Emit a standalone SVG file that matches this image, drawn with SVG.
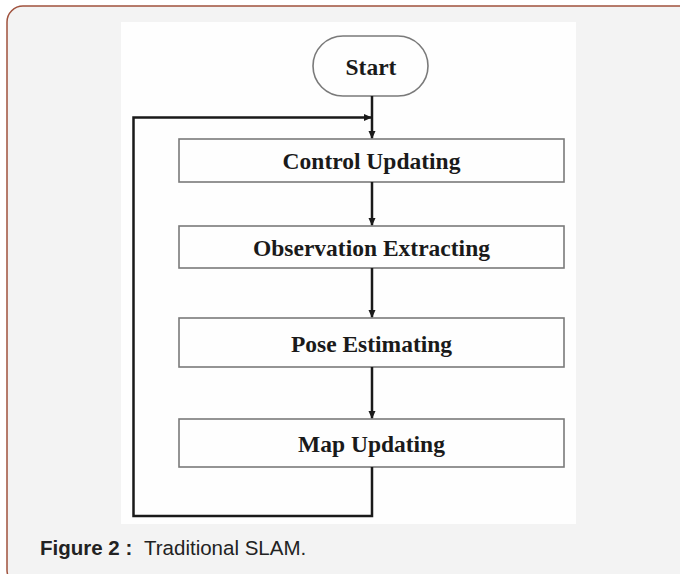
<svg xmlns="http://www.w3.org/2000/svg" width="680" height="574" viewBox="0 0 680 574">
<defs>
<marker id="ah" markerWidth="8" markerHeight="8" refX="7" refY="4" orient="auto" markerUnits="userSpaceOnUse">
<path d="M0,0.5 L8,4 L0,7.5 Z" fill="#1a1a1a"/>
</marker>
<style>
.box{fill:#fefefe;stroke:#7a7a7a;stroke-width:1.6}
.lbl{font-family:"Liberation Serif","Times New Roman",serif;font-weight:bold;font-size:23.5px;fill:#1a1a1a;text-anchor:middle}
.ln{fill:none;stroke:#1a1a1a;stroke-width:2.5}
.cap{font-family:"Liberation Sans",Arial,sans-serif;font-size:20.5px;fill:#222}
</style>
</defs>
<rect x="7" y="6" width="690" height="580" rx="16" fill="#f3f3f3" stroke="#a0523d" stroke-width="1.5"/>
<rect x="121" y="22" width="455" height="502" fill="#fefefe"/>
<g id="start">
<rect class="box" x="313" y="36" width="115" height="60" rx="30" stroke="#8a8a8a"/>
<text class="lbl" x="371" y="75">Start</text>
</g>
<g id="control">
<rect class="box" x="179" y="139" width="385" height="43"/>
<text class="lbl" x="371.5" y="169">Control Updating</text>
</g>
<g id="observation">
<rect class="box" x="179" y="226" width="385" height="42"/>
<text class="lbl" x="371.5" y="256">Observation Extracting</text>
</g>
<g id="pose">
<rect class="box" x="179" y="318" width="385" height="49"/>
<text class="lbl" x="371.5" y="352">Pose Estimating</text>
</g>
<g id="map">
<rect class="box" x="179" y="419" width="385" height="48"/>
<text class="lbl" x="371.5" y="452">Map Updating</text>
</g>
<g id="connectors">
<line class="ln" x1="372" y1="96" x2="372" y2="138" marker-end="url(#ah)"/>
<line class="ln" x1="372" y1="182" x2="372" y2="225" marker-end="url(#ah)"/>
<line class="ln" x1="372" y1="268" x2="372" y2="317" marker-end="url(#ah)"/>
<line class="ln" x1="372" y1="367" x2="372" y2="418" marker-end="url(#ah)"/>
<polyline class="ln" points="372,467 372,516 133.5,516 133.5,117.5 371,117.5" marker-end="url(#ah)"/>
</g>
<text class="cap" y="555"><tspan x="40" font-weight="bold">Figure 2 :</tspan><tspan x="144">Traditional SLAM.</tspan></text>
</svg>
